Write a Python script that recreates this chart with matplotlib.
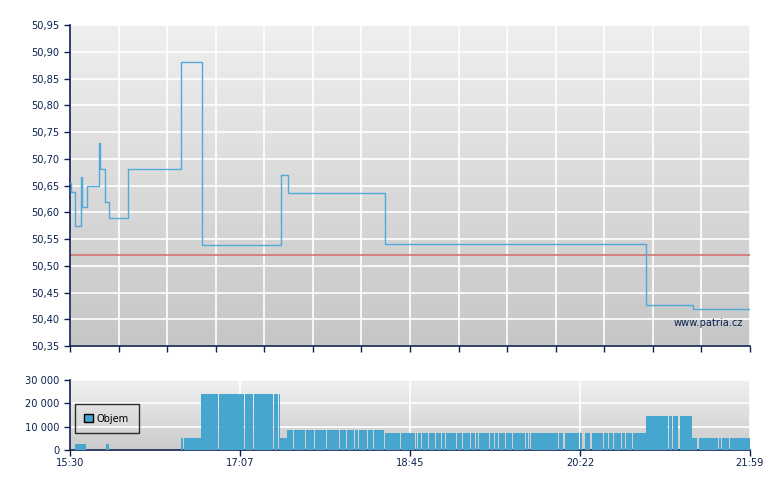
import numpy as np
import matplotlib.pyplot as plt
from matplotlib.patches import Patch
from matplotlib.colors import LinearSegmentedColormap

# price steps: minutes after 15:30, price
price_t = [0, 0.5, 2.9, 6.3, 6.9, 9.7, 16.6, 17.2, 20.0, 22.3, 33.2, 63.5, 75.5,
           120.7, 124.7, 180.2, 329.5, 356.4, 389]
price_v = [50.655, 50.637, 50.575, 50.665, 50.61, 50.65, 50.73, 50.68, 50.62, 50.59,
           50.68, 50.88, 50.538, 50.67, 50.636, 50.54, 50.427, 50.42, 50.42]
ref_price = 50.52

# volume blocks: start, end (minutes after 15:30), volume
vol_start = [2.9, 20.6, 63.5, 65.2, 74.9, 85.2, 100.1, 105.3, 116.7, 119.6, 120.1,
             124.1, 128.2, 135.0, 140.2, 147.0, 154.5, 158.5, 163.0, 165.3, 170.5, 173.9,
             180.2, 189.4, 197.9, 199.1, 201.4, 205.4, 209.4, 212.8, 215.1, 221.4, 224.8,
             229.4, 232.3, 234.0, 240.3, 243.1, 245.4, 249.4, 253.4, 260.9, 262.6, 263.7,
             279.8, 283.2, 291.8, 294.6, 298.6, 305.5, 308.4, 311.2, 315.8, 318.1, 322.1,
             329.5, 342.7, 345.0, 349.0,
             355.8, 359.9, 371.3, 373.0, 377.6]
vol_end = [9.2, 22.3, 64.6, 74.9, 84.7, 99.5, 104.7, 116.1, 119.0, 120.1, 124.1,
           127.6, 134.4, 139.6, 146.5, 153.9, 157.9, 162.5, 164.8, 169.9, 173.3, 179.6,
           188.8, 197.4, 198.5, 200.8, 204.8, 208.8, 212.2, 214.5, 220.8, 224.3, 228.8,
           231.7, 233.4, 239.7, 242.6, 244.9, 248.9, 252.9, 260.3, 262.0, 263.2, 279.2,
           282.0, 291.2, 292.9, 297.5, 304.9, 307.8, 310.6, 315.2, 317.5, 321.5, 329.5,
           342.1, 344.4, 347.8, 355.8,
           358.7, 370.7, 372.4, 377.0, 389.0]
vol_v = [2600, 2600, 5300, 5300, 24000, 24000, 24000, 24000, 24000, 24000, 5300,
         8600, 8600, 8600, 8600, 8600, 8600, 8600, 8600, 8600, 8600, 8600] + \
        [7300] * 33 + [14600] * 4 + [5100] * 5

time_labels = ['15:30', '17:07', '18:45', '20:22', '21:59']
vol_ticks = [0, 10000, 20000, 30000]

navy = '#0c2150'
blue = '#47a6cf'
T = 389

fig = plt.figure(figsize=(7.8, 4.9), dpi=100)
ax = fig.add_axes([70 / 780, 1 - 346 / 490, 680 / 780, 321 / 490])
axv = fig.add_axes([70 / 780, 1 - 450 / 490, 680 / 780, 70 / 490])


def background(a, top, bottom):
    g = np.linspace(0, 1, 256).reshape(-1, 1)
    cm = LinearSegmentedColormap.from_list('bg', [top, bottom])
    a.imshow(g, cmap=cm, extent=[0, 1, 0, 1], transform=a.transAxes,
             aspect='auto', zorder=-2)


for a in (ax, axv):
    for s in ('top', 'right'):
        a.spines[s].set_visible(False)
    for s in ('left', 'bottom'):
        a.spines[s].set_color(navy)
        a.spines[s].set_linewidth(1.2)
    a.tick_params(colors=navy, labelcolor=navy, labelsize=7.1, length=4, width=1)
    a.grid(True, color='white', lw=1.2)

background(ax, '#efefef', '#c6c6c6')
background(axv, '#f0f0f0', '#cbcbcb')

ax.step(price_t, price_v, where='post', color='#4fa9d9', lw=1.0, zorder=3)
ax.axhline(ref_price, color='#d46a6a', lw=1.1, zorder=2)
ax.set_xlim(0, T)
ax.set_ylim(50.35, 50.95)
ax.set_yticks(np.arange(50.35, 50.951, 0.05))
ax.set_yticklabels([f'{v:.2f}'.replace('.', ',') for v in np.arange(50.35, 50.951, 0.05)])
ax.set_xticks(np.linspace(0, T, 15))
ax.set_xticklabels([])
ax.text(0.99, 0.072, 'www.patria.cz', transform=ax.transAxes, ha='right', va='center',
        color=navy, fontsize=7.1)

widths = [e - s for s, e in zip(vol_start, vol_end)]
axv.bar(vol_start, vol_v, width=widths, align='edge', color=blue, lw=0, zorder=3)
axv.set_xlim(0, T)
axv.set_ylim(0, 30000)
axv.set_yticks(vol_ticks)
axv.set_yticklabels([f'{v:,}'.replace(',', ' ') for v in vol_ticks])
axv.set_xticks(np.linspace(0, T, 5))
axv.set_xticklabels(time_labels)
axv.tick_params(axis='x', pad=2)

leg = axv.legend(handles=[Patch(facecolor=blue, edgecolor='black', lw=1, label='Objem')],
                 loc='lower left', bbox_to_anchor=(0.007, 0.243), frameon=True,
                 fancybox=False, fontsize=7.1, handlelength=0.9, handleheight=0.9,
                 handletextpad=0.4, borderpad=0.95, borderaxespad=0)
leg.get_frame().set_edgecolor('black')
leg.get_frame().set_facecolor('none')
leg.get_frame().set_linewidth(1)

fig.savefig('out.png', dpi=100)
